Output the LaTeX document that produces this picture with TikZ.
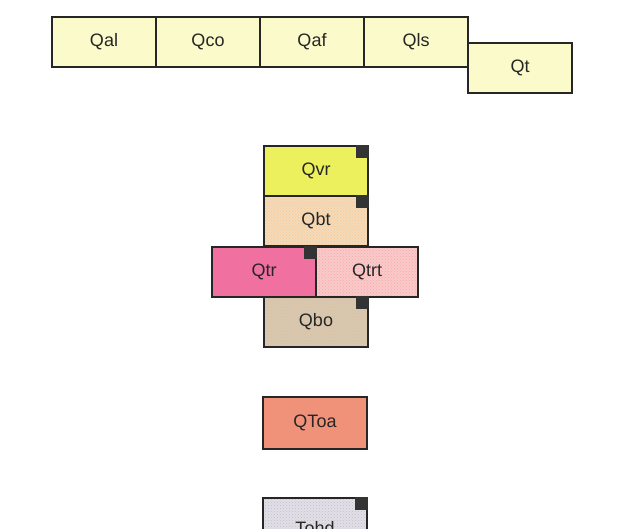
\documentclass[tikz,border=0pt]{standalone}
\usepackage{fontspec}
\setmainfont{Liberation Sans}
\usetikzlibrary{patterns}
\usetikzlibrary{positioning}

\definecolor{unitpale}{RGB}{250,250,202}
\definecolor{unitvr}{RGB}{236,240,92}
\definecolor{unitbt}{RGB}{242,218,186}
\definecolor{unittr}{RGB}{240,112,160}
\definecolor{unittrt}{RGB}{248,202,202}
\definecolor{unitbo}{RGB}{216,200,176}
\definecolor{unittoa}{RGB}{240,146,122}
\definecolor{unitohd}{RGB}{226,223,233}

\tikzset{
	unitbox/.style={draw=black!85, line width=1.1pt, minimum width=104pt, minimum height=50pt,
		inner sep=0pt, font=\fontsize{18}{20}\selectfont, text=black!85},
	speckled/.style={postaction={pattern=crosshatch dots, pattern color=#1},
		postaction={draw=black!85}},
}

\begin{document}
\begin{tikzpicture}[x=1pt,y=-1pt]
	\clip (0,0) rectangle (626,528);
	\fill[white] (0,0) rectangle (626,528);

	% map units along the top
	\node[unitbox, fill=unitpale] (qal) at (104,42){Qal};
	\node[unitbox, fill=unitpale] (qco) at (208,42){Qco};
	\node[unitbox, fill=unitpale] (qaf) at (312,42){Qaf};
	\node[unitbox, fill=unitpale] (qls) at (416,42){Qls};
	\node[unitbox, fill=unitpale] (qt) at (520,68){Qt};

	% volcanic stack
	\node[unitbox, fill=unitvr] (qvr) at (316,171){Qvr};
	\node[unitbox, fill=unitbt, speckled=orange!45] (qbt) at (316,221){Qbt};
	\node[unitbox, fill=unittr] (qtr) at (264,272){Qtr};
	\node[unitbox, fill=unittrt, minimum width=102pt, speckled=red!35] (qtrt) at (367,272){Qtrt};
	\node[unitbox, fill=unitbo, speckled=brown!50] (qbo) at (316,322){Qbo};

	\node[unitbox, fill=unittoa, minimum height=52pt] (qtoa) at (315,423){QToa};
	\node[unitbox, fill=unitohd, minimum height=60pt, speckled=gray!50] (tohd) at (315,528){Tohd};

	% corner marks
	\foreach \u in {qvr,qbt,qtr,qbo,tohd}
		\fill[black!80] (\u.north east) rectangle ++(-13,13);
\end{tikzpicture}
\end{document}
